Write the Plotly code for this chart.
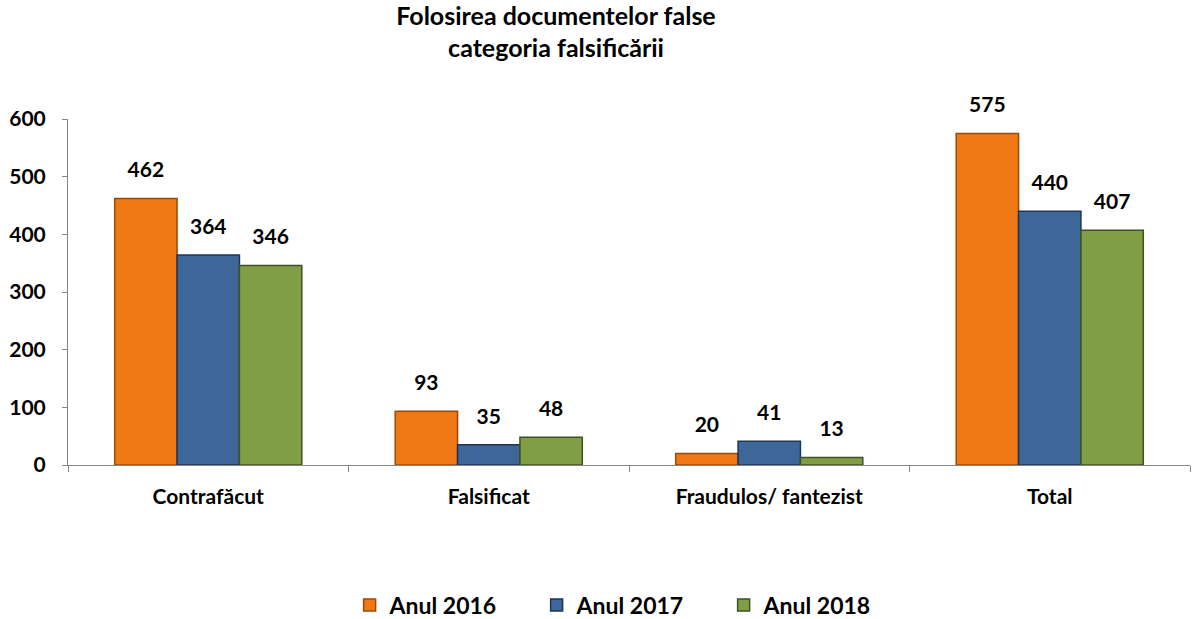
import plotly.graph_objects as go

categories = ["Contrafăcut", "Falsificat", "Fraudulos/ fantezist", "Total"]
series_names = ["Anul 2016", "Anul 2017", "Anul 2018"]
vals_2016 = [462, 93, 20, 575]
vals_2017 = [364, 35, 41, 440]
vals_2018 = [346, 48, 13, 407]
y_ticks = [0, 100, 200, 300, 400, 500, 600]

colors = ["#F07814", "#3D6699", "#7F9E45"]
edges = ["#9A4A08", "#1F3555", "#3F5220"]
FONT = "Lato"

fig = go.Figure()
for i, (name, vals, c, e) in enumerate(zip(series_names, [vals_2016, vals_2017, vals_2018], colors, edges)):
    fig.add_trace(go.Bar(
        x=categories, y=vals, name=name, offsetgroup=str(i),
        marker=dict(color=c, line=dict(color=e, width=1.5)),
    ))
for i, (name, vals) in enumerate(zip(series_names, [vals_2016, vals_2017, vals_2018])):
    fig.add_trace(go.Scatter(
        x=categories, y=vals, name=name, offsetgroup=str(i), showlegend=False,
        mode="markers+text", text=[str(v) for v in vals], textposition="top center",
        marker=dict(size=24, opacity=0),
        textfont=dict(family=FONT, size=21, color="black", weight="bold"),
        cliponaxis=False, hoverinfo="skip",
    ))

fig.update_layout(
    width=1197, height=619,
    plot_bgcolor="white", paper_bgcolor="white",
    barmode="group", scattermode="group", bargap=0.333, bargroupgap=0,
    margin=dict(l=68, r=7, t=119, b=154, autoexpand=False),
    font=dict(family=FONT, color="black"),
    title=dict(
        text="<b>Folosirea documentelor false<br>categoria falsificării</b>",
        x=0.4645, xref="container", xanchor="center",
        y=0.96, yref="container", yanchor="middle",
        font=dict(family=FONT, size=25, color="black"),
    ),
    legend=dict(
        orientation="h", x=0.501, xanchor="center", y=-0.405, yanchor="middle",
        font=dict(family=FONT, size=23, color="black", weight="bold"),
        itemwidth=30, traceorder="normal", entrywidth=142, entrywidthmode="pixels",
    ),
    showlegend=True,
)
fig.update_xaxes(
    showline=True, linecolor="#868686", linewidth=1, automargin=False,
    ticks="outside", tickson="boundaries", ticklen=6, tickcolor="#868686",
    tickfont=dict(family=FONT, size=21, color="black", weight="bold"),
    ticklabelstandoff=13, showgrid=False,
)
fig.update_yaxes(
    range=[0, 600], tickvals=y_ticks, showline=True, linecolor="#868686", linewidth=1,
    automargin=False,
    ticks="outside", ticklen=5, tickcolor="#868686",
    tickfont=dict(family=FONT, size=21, color="black", weight="bold"),
    ticklabelstandoff=12, showgrid=False, zeroline=False,
)

fig.write_html("out.html", config={"displayModeBar": False},
               post_script="document.body.style.margin='0';")
